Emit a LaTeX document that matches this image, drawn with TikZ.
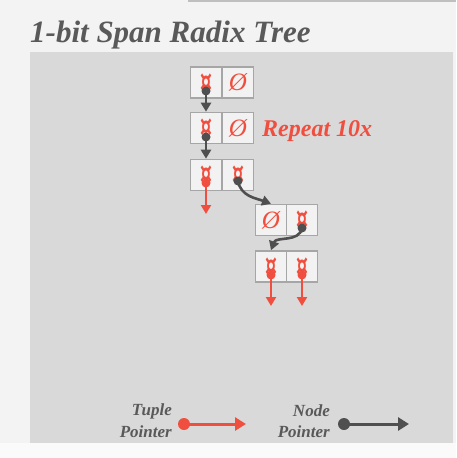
\documentclass[tikz,border=0pt]{standalone}
\usepackage{fontspec}
\usepackage{graphicx}
\setmainfont{Liberation Serif}
\newfontfamily\symfont{DejaVu Sans}
\usetikzlibrary{arrows.meta}
\definecolor{pagebg}{HTML}{F3F3F3}
\definecolor{panelbg}{HTML}{D9D9D9}
\definecolor{cellbg}{HTML}{F2F2F2}
\definecolor{cellbd}{HTML}{A6A6A6}
\definecolor{ptred}{HTML}{F04E3E}
\definecolor{ptgray}{HTML}{4F4F4F}
\definecolor{titlegray}{HTML}{595959}
\newcommand{\ptrglyph}{\raisebox{-1pt}{\scalebox{0.85}[1.35]{¤}}}
\tikzset{
  x=1pt,y=-1pt,
  cell/.style={draw=cellbd,line width=1.6pt,fill=cellbg,minimum width=31pt,minimum height=31pt,inner sep=0pt,
    text=ptred,font=\symfont\bfseries\fontsize{22}{22}\selectfont},
  nullc/.style={cell,font=\itshape\fontsize{25}{25}\selectfont},
  rdot/.style={circle,fill=ptred,inner sep=0pt,minimum size=9pt},
  gdot/.style={circle,fill=ptgray,inner sep=0pt,minimum size=9pt},
  tptr/.style={draw=ptred,line width=2.6pt,-{Triangle[length=9pt,width=10pt]}},
  nptr/.style={draw=ptgray,line width=2.6pt,-{Triangle[length=9pt,width=10pt]}},
  legtext/.style={font=\bfseries\itshape\fontsize{17}{20}\selectfont,text=titlegray,align=right,anchor=east,inner sep=0pt}
}
\begin{document}
\begin{tikzpicture}
\fill[pagebg] (0,0) rectangle (456,458);
\fill[white!98!black] (0,443) rectangle (456,458);
\draw[draw=black!25,line width=2pt] (188,1) -- (456,1);
\fill[panelbg] (30,52) rectangle (453,443);
\node[anchor=base west,inner sep=0pt,text=titlegray,font=\bfseries\itshape\fontsize{31}{31}\selectfont] (title) at (30,42) {1-bit Span Radix Tree};
% nodes
\node[cell] (a1) at (206,82.5) {\ptrglyph};
\node[nullc] (a2) at (238,82.5) {Ø};
\node[cell] (b1) at (206,128) {\ptrglyph};
\node[nullc] (b2) at (238,128) {Ø};
\node[cell] (c1) at (206,175) {\ptrglyph};
\node[cell] (c2) at (238,175) {\ptrglyph};
\node[nullc] (d1) at (271,220) {Ø};
\node[cell] (d2) at (302,220) {\ptrglyph};
\node[cell] (e1) at (271,266.5) {\ptrglyph};
\node[cell] (e2) at (302,266.5) {\ptrglyph};
\node[anchor=base west,inner sep=0pt,text=ptred,font=\bfseries\itshape\fontsize{24}{24}\selectfont] (rep) at (262,136) {Repeat 10x};
% pointer dots
\node[gdot] (pa) at (206,91) {};
\node[gdot] (pb) at (206,137) {};
\node[rdot] (pc1) at (206,183) {};
\node[gdot] (pc2) at (238,181) {};
\node[gdot] (pd) at (302,228) {};
\node[rdot] (pe1) at (271,275) {};
\node[rdot] (pe2) at (302,275) {};
\coordinate (tc1) at (206,214);
\coordinate (te1) at (271,306);
\coordinate (te2) at (302,306);
% connectors
\draw[nptr] (pa.center) -- (b1.north);
\draw[nptr] (pb.center) -- (c1.north);
\draw[tptr] (pc1.center) -- (tc1);
\draw[nptr] (pc2.center) to[out=-80,in=160] (d1.north);
\draw[nptr] (pd.center) to[out=-100,in=70] (e1.north);
\draw[tptr] (pe1.center) -- (te1);
\draw[tptr] (pe2.center) -- (te2);
% legend
\node[legtext] (lt) at (172,411) {Tuple};
\node[legtext] (lt2) at (172,432) {Pointer};
\node[legtext] (ln) at (330,411) {Node};
\node[legtext] (ln2) at (330,432) {Pointer};
\node[rdot,minimum size=12pt] (ltd) at (184,424) {};
\coordinate (lte) at (246,424);
\node[gdot,minimum size=12pt] (lnd) at (344,424) {};
\coordinate (lne) at (409,424);
\draw[tptr,line width=3pt,-{Triangle[length=11pt,width=13pt]}] (ltd.center) -- (lte);
\draw[nptr,line width=3pt,-{Triangle[length=11pt,width=13pt]}] (lnd.center) -- (lne);
\useasboundingbox (0,0) rectangle (456,458);
\end{tikzpicture}
\end{document}
